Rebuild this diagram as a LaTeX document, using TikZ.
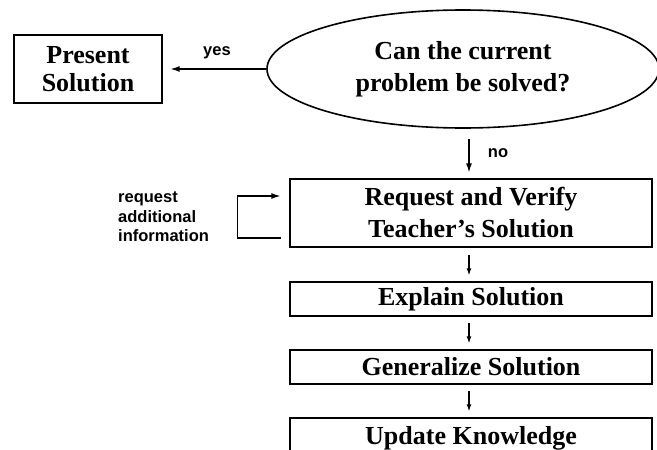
\documentclass[tikz,border=0pt]{standalone}
\usepackage{fontspec}
\setmainfont{Liberation Serif}
\newfontfamily\labelfont{Liberation Sans}
\usetikzlibrary{shapes.geometric,arrows.meta}
\tikzset{
  box/.style={draw, line width=1.3pt, rectangle, inner sep=0pt, align=center,
    font=\bfseries\fontsize{26}{28}\selectfont},
  wide/.style={box, minimum width=362pt},
  arr/.style={-{Latex[length=9pt,width=6pt]}, line width=1.2pt},
  smallarr/.style={-{Latex[length=7pt,width=5pt]}, line width=1.2pt},
  lbl/.style={font=\labelfont\bfseries\fontsize{16.5}{19.5}\selectfont, inner sep=0pt}
}
\begin{document}
\begin{tikzpicture}[x=1pt,y=-1pt]
\useasboundingbox (0,0) rectangle (657,450);
\clip (0,0) rectangle (657,450);
\node[box, minimum width=148pt, minimum height=68pt] (present) at (88,69) {Present\\Solution};
\node[draw, ellipse, line width=1.6pt, minimum width=392pt, minimum height=118pt, inner sep=0pt,
  align=center, font=\bfseries\fontsize{26}{32}\selectfont] (q) at (463,69)
  {Can the current\\problem be solved?};
\node[wide, minimum height=68pt, font=\bfseries\fontsize{26}{32}\selectfont] (req) at (471,213) {Request and Verify\\Teacher's Solution};
\node[wide, minimum height=34pt] (expl) at (471,299) {Explain Solution};
\node[wide, minimum height=34pt] (gen) at (471,367) {Generalize Solution};
\node[wide, minimum height=40pt] (upd) at (471,438) {Update Knowledge};

\draw[arr, shorten >=8pt] (q.west) -- (q.west -| present.east);
\node[lbl] (yes) at (217,53) {yes};
\draw[arr, shorten <=10pt, shorten >=6pt] ([xshift=-2pt]req.north |- q.south) -- ([xshift=-2pt]req.north);
\node[lbl] (no) at (498,153) {no};
\draw[smallarr, shorten <=7pt, shorten >=6pt] ([xshift=-2pt]req.south) -- ([xshift=-2pt]expl.north);
\draw[smallarr, shorten <=6pt, shorten >=6pt] ([xshift=-2pt]expl.south) -- ([xshift=-2pt]gen.north);
\draw[smallarr, shorten <=6pt, shorten >=6pt] ([xshift=-2pt]gen.south) -- ([xshift=-2pt]upd.north);
\draw[arr] ([xshift=-8pt,yshift=-25pt]req.west) -- ++(-44,0) |- ([xshift=-9pt,yshift=17pt]req.west);
\node[lbl, anchor=west, align=left] (info) at (118,217) {request\\additional\\information};
\end{tikzpicture}
\end{document}
